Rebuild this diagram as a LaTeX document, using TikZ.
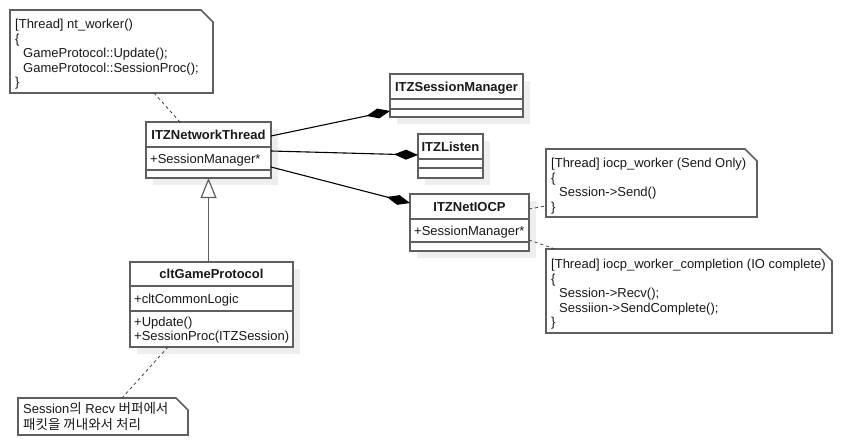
\documentclass[tikz,border=0pt]{standalone}
\usepackage{fontspec}
\setmainfont{Liberation Sans}
\newfontfamily\kr{Noto Sans CJK KR}
\usetikzlibrary{arrows.meta,shadows}
\definecolor{boxline}{RGB}{95,95,95}
\definecolor{shade}{RGB}{238,238,238}
\definecolor{txt}{RGB}{25,25,25}
\newcommand\divline[2]{\draw[divl] ([yshift=-#2pt]#1.north west) -- ([yshift=-#2pt]#1.north east);}
\newcommand\notebox[1]{\draw[noteline] (#1.north west) -- ([xshift=-12pt]#1.north east) -- ([yshift=-12pt]#1.north east) -- (#1.south east) -- (#1.south west) -- cycle;}
\newcommand\krt[1]{{\kr\fontsize{13.5}{16}\selectfont #1}}
\begin{document}
\begin{tikzpicture}[x=1pt,y=-1pt,
  font=\fontsize{13}{14.5}\selectfont,
  cls/.style={draw=boxline, line width=1.6pt, fill=white, anchor=north west, inner sep=0pt, outer sep=0pt,
    drop shadow={shadow xshift=7pt, shadow yshift=-7pt, fill=shade, opacity=1, draw=none}},
  divl/.style={draw=boxline, line width=1.6pt},
  notebg/.style={draw=none, fill=white, anchor=north west, inner sep=0pt, outer sep=0pt},
  noteline/.style={draw=boxline, line width=1.6pt, line join=miter},
  ctitle/.style={font=\fontsize{13}{14.5}\selectfont\bfseries, text=txt, inner sep=0pt, text height=9.5pt, text depth=2.7pt},
  member/.style={text=txt, inner sep=0pt, anchor=west, text height=9.5pt, text depth=2.7pt},
  notetext/.style={text=txt, inner sep=0pt, anchor=north west, align=left},
  comp/.style={draw=black, line width=1.1pt, -{Diamond[length=24pt,width=10pt]}},
  inh/.style={draw=boxline, line width=1.2pt, -{Triangle[length=20pt,width=16pt,fill=white,line width=1.2pt]}},
  dashl/.style={draw=black!75, line width=0.8pt, dash pattern=on 3pt off 3pt},
]
\useasboundingbox (0,0) rectangle (847,447);
\fill[white] (0,0) rectangle (847,447);

% ---------- classes ----------
\node[cls, minimum width=125pt, minimum height=56pt] (ntt) at (146,122) {};
\divline{ntt}{25}\divline{ntt}{48}
\node[ctitle] (ntt-t) at (208.5,136) {ITZNetworkThread};
\node[member] (ntt-a) at (150,160) {+SessionManager*};

\node[cls, minimum width=133pt, minimum height=43pt] (ism) at (390,74) {};
\divline{ism}{25}\divline{ism}{35}
\node[ctitle] (ism-t) at (456.5,88) {ITZSessionManager};

\node[cls, minimum width=65pt, minimum height=44pt] (itl) at (418,134) {};
\divline{itl}{25}\divline{itl}{34}
\node[ctitle] (itl-t) at (450.5,148) {ITZListen};

\node[cls, minimum width=119pt, minimum height=57pt] (iocp) at (410,194) {};
\divline{iocp}{25}\divline{iocp}{48}
\node[ctitle] (iocp-t) at (469.5,208) {ITZNetIOCP};
\node[member] (iocp-a) at (414,232) {+SessionManager*};

\node[cls, minimum width=163pt, minimum height=85pt] (cgp) at (130,262) {};
\divline{cgp}{24}\divline{cgp}{49}
\node[ctitle] (cgp-t) at (211.5,275.5) {cltGameProtocol};
\node[member] (cgp-a) at (134,300) {+cltCommonLogic};
\node[member, align=left, text height=, text depth=] (cgp-m) at (134,330) {+Update()\\+SessionProc(ITZSession)};

% ---------- notes ----------
\node[notebg, minimum width=203pt, minimum height=83pt] (n1) at (10,10) {};
\notebox{n1}
\node[notetext] (n1-t) at (15,19) {[Thread] nt\_worker()\\\{\\\hspace*{8pt}GameProtocol::Update();\\\hspace*{8pt}GameProtocol::SessionProc();\\\}};

\node[notebg, minimum width=211pt, minimum height=68pt] (n2) at (546,149) {};
\notebox{n2}
\node[notetext] (n2-t) at (551,158) {[Thread] iocp\_worker (Send Only)\\\{\\\hspace*{8pt}Session->Send()\\\}};

\node[notebg, minimum width=286pt, minimum height=84pt] (n3) at (546,249) {};
\notebox{n3}
\node[notetext] (n3-t) at (551,259) {[Thread] iocp\_worker\_completion (IO complete)\\\{\\\hspace*{8pt}Session->Recv();\\\hspace*{8pt}Sessiion->SendComplete();\\\}};

\node[notebg, minimum width=170pt, minimum height=37pt] (n4) at (18,398) {};
\notebox{n4}
\node[notetext, font=\fontsize{13}{16}\selectfont] (n4-t) at (23,402) {Session\krt{의} Recv \krt{버퍼에서}\\\krt{패킷을 꺼내와서 처리}};

% ---------- connectors ----------
\draw[comp] ([yshift=-14pt]ntt.north east) -- ([yshift=-37pt]ism.north west);
\draw[comp] ([yshift=-29pt]ntt.north east) -- ([yshift=-21pt]itl.north west);
\draw[comp] ([yshift=-45pt]ntt.north east) -- ([yshift=-9pt]iocp.north west);
\draw[inh] (cgp.north -| ntt.south) -- (ntt.south);

\draw[dashl] ([xshift=144pt]n1.south west) -- ([xshift=34pt]ntt.north west);
\draw[dashl] ([yshift=-15pt]iocp.north east) -- ([yshift=-57pt]n2.north west);
\draw[dashl] ([yshift=-46pt]iocp.north east) -- ([xshift=9pt]n3.north west);
\draw[dashl] ([xshift=38pt]cgp.south west) -- ([xshift=104pt]n4.north west);
\end{tikzpicture}
\end{document}
